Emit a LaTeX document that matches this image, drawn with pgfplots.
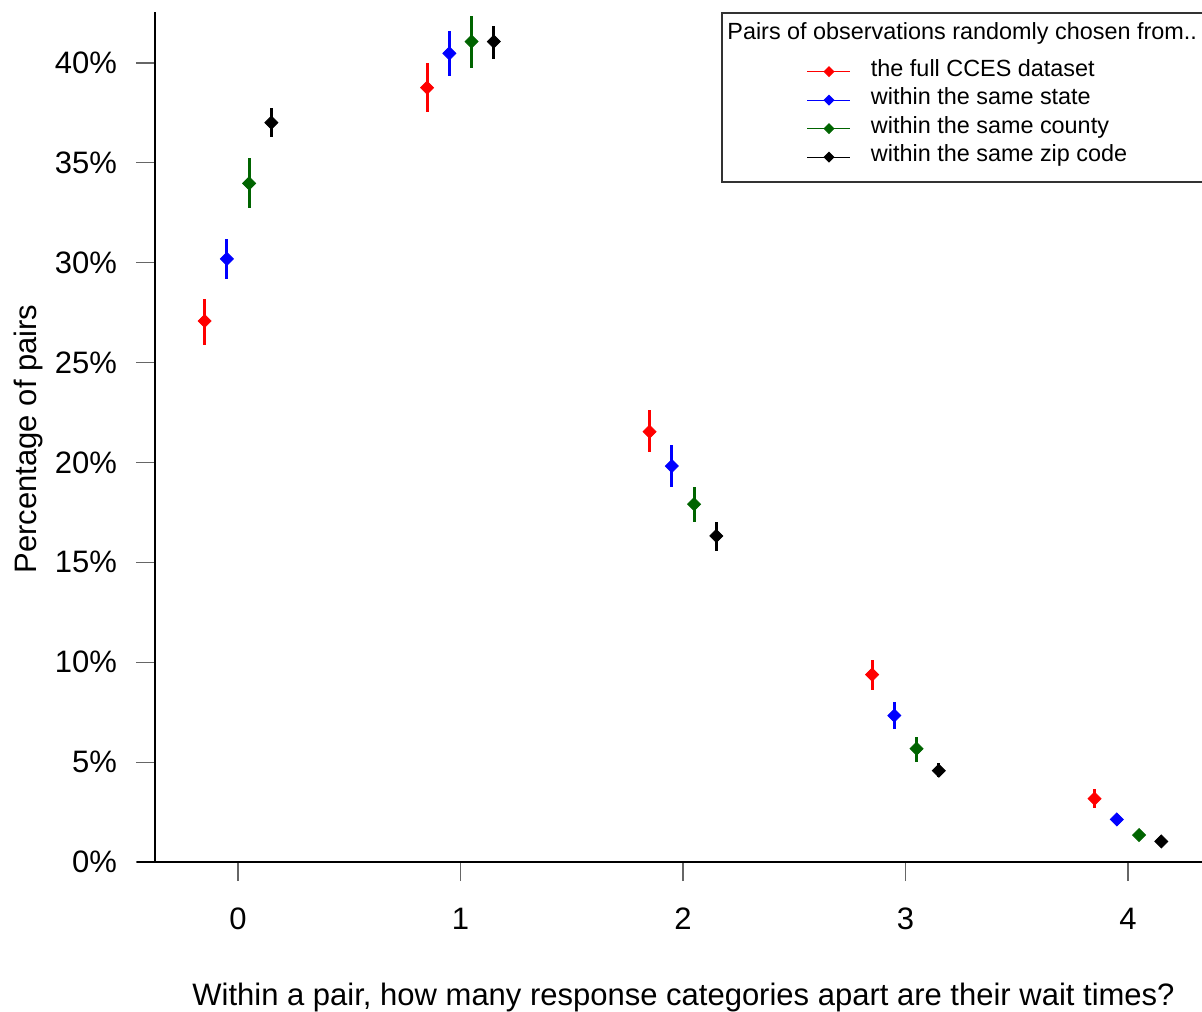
\documentclass[border=0pt]{standalone}
\usepackage{pgfplots}
\pgfplotsset{compat=1.18}
\usepackage{pgfplotstable}
\usepackage{fontspec}
\setmainfont{Liberation Sans}
\definecolor{rgreen}{RGB}{0,100,0}

\pgfplotstableread{
x y ep em
-0.15 27.08 1.12 1.18
0.85 38.76 1.22 1.24
1.85 21.54 1.09 1.03
2.85 9.38 0.73 0.77
3.85 3.17 0.50 0.49
}\redtab
\pgfplotstableread{
x y ep em
-0.05 30.19 1.00 1.00
0.95 40.48 1.12 1.13
1.95 19.82 1.04 1.05
2.95 7.33 0.66 0.67
3.95 2.13 0.22 0.22
}\bluetab
\pgfplotstableread{
x y ep em
0.05 33.97 1.27 1.23
1.05 41.07 1.28 1.31
2.05 17.91 0.88 0.87
3.05 5.67 0.60 0.68
4.05 1.35 0.18 0.18
}\greentab
\pgfplotstableread{
x y ep em
0.15 37.01 0.72 0.74
1.15 41.07 0.79 0.89
2.15 16.32 0.68 0.75
3.15 4.57 0.40 0.33
4.15 1.03 0.14 0.14
}\blacktab

\begin{document}
\begin{tikzpicture}
\path[use as bounding box] (-77.5pt,-74.5pt) rectangle (523.5pt,431pt);
\begin{axis}[
  at={(0,0)}, anchor=south west,
  scale only axis, width=523.5pt, height=425pt,
  xmin=-0.373, xmax=4.333, ymin=0, ymax=42.55,
  axis lines*=left,
  axis line style={line width=0.6pt, black},
  tick align=outside,
  major tick length=9.5pt,
  major tick style={black!60, line width=0.6pt},
  xtick={0,1,2,3,4}, xticklabels={0,1,2,3,4},
  ytick={0,5,10,15,20,25,30,35,40},
  yticklabels={0\%,5\%,10\%,15\%,20\%,25\%,30\%,35\%,40\%},
  tick label style={font=\fontsize{15.5pt}{18pt}\selectfont},
  yticklabel style={xshift=-6pt},
  xticklabel style={yshift=-10pt},
  clip=false,
  error bars/y dir=both,
  error bars/y explicit,
  error bars/error mark=none,
  legend style={at={(0.6227,0.9466)}, anchor=north west, draw=none, fill=none,
    inner sep=0pt, outer sep=0pt, column sep=10pt, row sep=0pt,
    font=\fontsize{11.7pt}{14pt}\selectfont,
    nodes={inner sep=0pt, text height=9.5pt, text depth=4.75pt}},
  legend cell align=left,
  legend image code/.code={\draw[mark repeat=2,mark phase=2,#1] plot coordinates {(0pt,0pt)(10.75pt,0pt)(21.5pt,0pt)};},
]
\addplot[only marks, red, mark=square*, mark size=2.3pt, mark options={rotate=45}, error bars/error bar style={line width=1.5pt, red}, forget plot]
  table[x=x, y=y, y error plus=ep, y error minus=em] {\redtab};
\addplot[only marks, blue, mark=square*, mark size=2.3pt, mark options={rotate=45}, error bars/error bar style={line width=1.5pt, blue}, forget plot]
  table[x=x, y=y, y error plus=ep, y error minus=em] {\bluetab};
\addplot[only marks, rgreen, mark=square*, mark size=2.3pt, mark options={rotate=45}, error bars/error bar style={line width=1.5pt, rgreen}, forget plot]
  table[x=x, y=y, y error plus=ep, y error minus=em] {\greentab};
\addplot[only marks, black, mark=square*, mark size=2.3pt, mark options={rotate=45}, error bars/error bar style={line width=1.4pt, black}, forget plot]
  table[x=x, y=y, y error plus=ep, y error minus=em] {\blacktab};

\addlegendimage{red, line width=0.5pt, mark=square*, mark size=1.7pt, mark options={rotate=45}}
\addlegendentry{the full CCES dataset}
\addlegendimage{blue, line width=0.5pt, mark=square*, mark size=1.7pt, mark options={rotate=45}}
\addlegendentry{within the same state}
\addlegendimage{rgreen, line width=0.5pt, mark=square*, mark size=1.7pt, mark options={rotate=45}}
\addlegendentry{within the same county}
\addlegendimage{black, line width=0.5pt, mark=square*, mark size=1.7pt, mark options={rotate=45}}
\addlegendentry{within the same zip code}
\end{axis}
\draw[line width=0.6pt] (-9pt,0) -- (0,0);
\node[anchor=base, font=\fontsize{15.5pt}{18pt}\selectfont] at (264.25pt,-71.5pt) {Within a pair, how many response categories apart are their wait times?};
\node[anchor=base, rotate=90, font=\fontsize{15.5pt}{18pt}\selectfont] at (-59pt,211.55pt) {Percentage of pairs};
\draw[black!80, line width=0.6pt] (283.5pt,340pt) rectangle (620pt,424.5pt);
\node[anchor=west, inner sep=0pt, font=\fontsize{11.7pt}{14pt}\selectfont] at (286pt,414.5pt) {Pairs of observations randomly chosen from..};
\end{tikzpicture}
\end{document}
